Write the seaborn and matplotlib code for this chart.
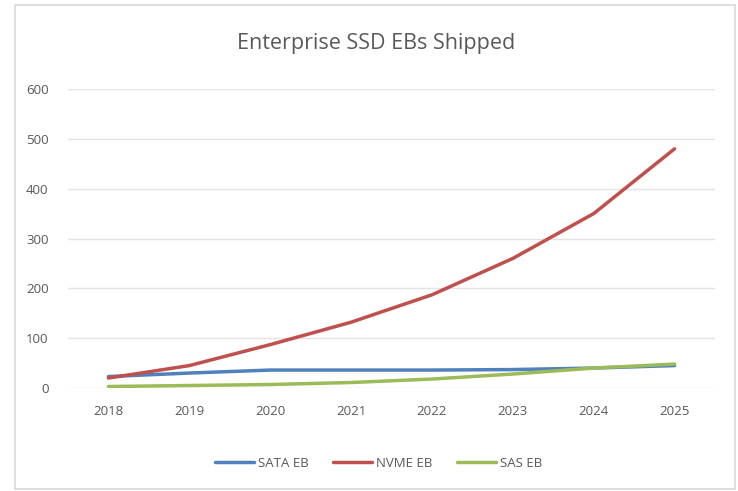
import matplotlib
matplotlib.use("Agg")
import matplotlib.pyplot as plt
import seaborn as sns
import pandas as pd
from matplotlib.patches import Rectangle

years = ["2018", "2019", "2020", "2021", "2022", "2023", "2024", "2025"]
sata_eb = [23, 30, 36, 36, 36, 37, 40, 45]
nvme_eb = [20, 45, 87, 132, 187, 260, 350, 480]
sas_eb = [3, 5, 7, 11, 18, 28, 40, 48]
series_names = ["SATA EB", "NVME EB", "SAS EB"]
y_ticks = [0, 100, 200, 300, 400, 500, 600]

df = pd.concat([
    pd.DataFrame({"Year": years, "EB": vals, "Series": name})
    for name, vals in zip(series_names, [sata_eb, nvme_eb, sas_eb])
])

sns.set_theme(style="white")
plt.rcParams["font.family"] = ["Open Sans", "DejaVu Sans"]

text_color = "#595959"
palette = {"SATA EB": "#4F81BD", "NVME EB": "#C0504D", "SAS EB": "#9BBB59"}

fig = plt.figure(figsize=(7.38, 4.91), dpi=100)
ax = fig.add_axes([68 / 738, 1 - 388 / 491, (715 - 68) / 738, (388 - 89) / 491])

sns.lineplot(data=df, x="Year", y="EB", hue="Series", palette=palette,
             linewidth=2.5, ax=ax, sort=False)

ax.set_xlim(-0.5, len(years) - 0.5)
ax.set_ylim(0, 600)
ax.set_yticks(y_ticks)
ax.set_yticklabels([str(t) for t in y_ticks])
ax.yaxis.grid(True, color="#E3E3E3", linewidth=1)
ax.set_axisbelow(True)
for s in ["top", "right", "left", "bottom"]:
    ax.spines[s].set_visible(False)
ax.set_xlabel("")
ax.set_ylabel("")
ax.tick_params(axis="both", length=0, labelsize=9.5, labelcolor=text_color)
ax.tick_params(axis="x", pad=12)
ax.tick_params(axis="y", pad=14)

ax.legend(loc="upper center", bbox_to_anchor=(0.48, -0.19), ncol=3, frameon=False,
          fontsize=9.5, labelcolor=text_color, handlelength=3.0, columnspacing=1.8,
          handletextpad=0.3)
for line in ax.get_legend().get_lines():
    line.set_linewidth(2.5)

fig.text(376 / 738, 1 - 43 / 491, "Enterprise SSD EBs Shipped", ha="center", va="center",
         fontsize=15.5, color=text_color)

fig.patches.append(Rectangle((15 / 738, 2 / 491), (735 - 15) / 738, (486 - 2) / 491,
                             transform=fig.transFigure, fill=False,
                             edgecolor="#D9D9D9", linewidth=1.2))

fig.savefig("out.png", dpi=100)
